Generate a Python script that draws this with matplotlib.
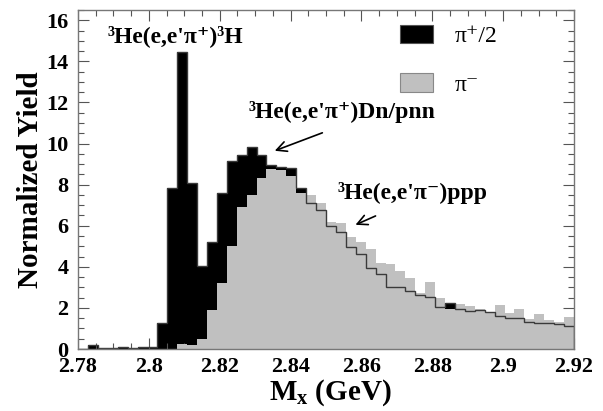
import numpy as np
import matplotlib
matplotlib.use('Agg')
import matplotlib.pyplot as plt
from matplotlib.patches import Patch
from matplotlib.ticker import MultipleLocator, FuncFormatter

plt.rcParams['font.family'] = ['Liberation Serif', 'DejaVu Serif']
plt.rcParams['mathtext.fontset'] = 'custom'
plt.rcParams['mathtext.rm'] = 'Liberation Serif:bold'
plt.rcParams['mathtext.it'] = 'Liberation Serif:italic:bold'
plt.rcParams['mathtext.bf'] = 'Liberation Serif:bold'

# histogram binning: 50 bins between 2.78 and 2.92 GeV
mx_lo, mx_hi, n_bins = 2.78, 2.92, 50

# pi+ yield divided by 2
pip_half = [0.0, 0.2, 0.05, 0.05, 0.1, 0.05, 0.12, 0.08, 1.28, 7.83,
            14.45, 8.1, 4.05, 5.23, 7.58, 9.17, 9.42, 9.82, 9.42, 8.96,
            8.88, 8.8, 7.83, 7.1, 6.75, 6.0, 5.7, 4.95, 4.6, 3.95,
            3.65, 3.0, 3.0, 2.8, 2.65, 2.55, 2.05, 2.22, 1.95, 1.87,
            1.92, 1.79, 1.6, 1.53, 1.5, 1.32, 1.28, 1.25, 1.22, 1.12]

# pi- yield
pim = [0.0, 0.0, 0.0, 0.0, 0.0, 0.0, 0.0, 0.0, 0.0, 0.0,
       0.25, 0.2, 0.5, 1.9, 3.2, 5.0, 6.9, 7.5, 8.3, 8.75,
       8.7, 8.4, 7.58, 7.5, 7.13, 6.2, 6.12, 5.44, 5.2, 4.85,
       4.2, 4.14, 3.82, 3.44, 2.71, 3.25, 2.5, 1.93, 2.17, 2.1,
       1.95, 1.78, 2.12, 1.75, 1.95, 1.48, 1.72, 1.43, 1.33, 1.54]

edges = np.linspace(mx_lo, mx_hi, n_bins + 1)

fig = plt.figure(figsize=(6.03, 4.11), dpi=100)
ax = fig.add_axes([78/603, 62/411, 496/603, 339/411])

gray = '#c0c0c0'
ax.stairs(pip_half, edges, fill=True, color='black', zorder=1)
ax.stairs(pim, edges, fill=True, color=gray, zorder=2)
ax.stairs(pip_half, edges, color='#3a3a3a', lw=1.0, zorder=3)

ax.set_xlim(mx_lo, mx_hi)
ax.set_ylim(0, 16.5)

ax.xaxis.set_major_locator(MultipleLocator(0.02))
ax.xaxis.set_minor_locator(MultipleLocator(0.005))
ax.yaxis.set_major_locator(MultipleLocator(2))
ax.yaxis.set_minor_locator(MultipleLocator(0.5))
ax.xaxis.set_major_formatter(FuncFormatter(lambda v, p: '%g' % round(v, 3)))
ax.yaxis.set_major_formatter(FuncFormatter(lambda v, p: '%g' % v))
ax.tick_params(which='both', direction='in', top=True, right=True,
               color='#555555', width=0.8)
ax.tick_params(which='major', length=8, labelsize=16)
ax.tick_params(axis='x', which='major', pad=6)
ax.tick_params(axis='y', which='major', pad=7)
ax.tick_params(which='minor', length=4)
for lab in ax.get_xticklabels() + ax.get_yticklabels():
    lab.set_fontweight('bold')
for sp in ax.spines.values():
    sp.set_color('#777777')
    sp.set_linewidth(1.0)
    sp.set_zorder(5)

ax.set_xlabel(r'M$_{\mathrm{x}}$ (GeV)', fontsize=21, fontweight='bold')
ax.set_ylabel('Normalized Yield', fontsize=21, fontweight='bold')
ax.xaxis.set_label_coords(0.508, -0.083)
ax.yaxis.set_label_coords(-0.068, 0.5)

ax.text(2.8074, 15.25, "³He(e,e'π⁺)³H", fontsize=17, fontweight='bold',
        ha='center', va='center')
ax.text(2.8545, 11.55, "³He(e,e'π⁺)Dn/pnn", fontsize=17, fontweight='bold',
        ha='center', va='center')
ax.text(2.8745, 7.6, "³He(e,e'π⁻)ppp", fontsize=17, fontweight='bold',
        ha='center', va='center')
ax.annotate('', xy=(2.8348, 9.6), xytext=(2.8497, 10.57),
            arrowprops=dict(arrowstyle='->', color='black', lw=1.2,
                            mutation_scale=18))
ax.annotate('', xy=(2.8576, 5.99), xytext=(2.8647, 6.53),
            arrowprops=dict(arrowstyle='->', color='black', lw=1.2,
                            mutation_scale=18))

handles = [Patch(facecolor='black', edgecolor='#555555', lw=0.8),
           Patch(facecolor=gray, edgecolor='#888888', lw=0.8)]
ax.legend(handles, ['π⁺/2', 'π⁻'], loc='upper left',
          bbox_to_anchor=(0.649, 0.955), frameon=False, fontsize=17,
          handlelength=1.4, handleheight=0.8, handletextpad=0.9,
          labelspacing=1.1, borderpad=0, borderaxespad=0)

fig.savefig('out.png', dpi=100)
